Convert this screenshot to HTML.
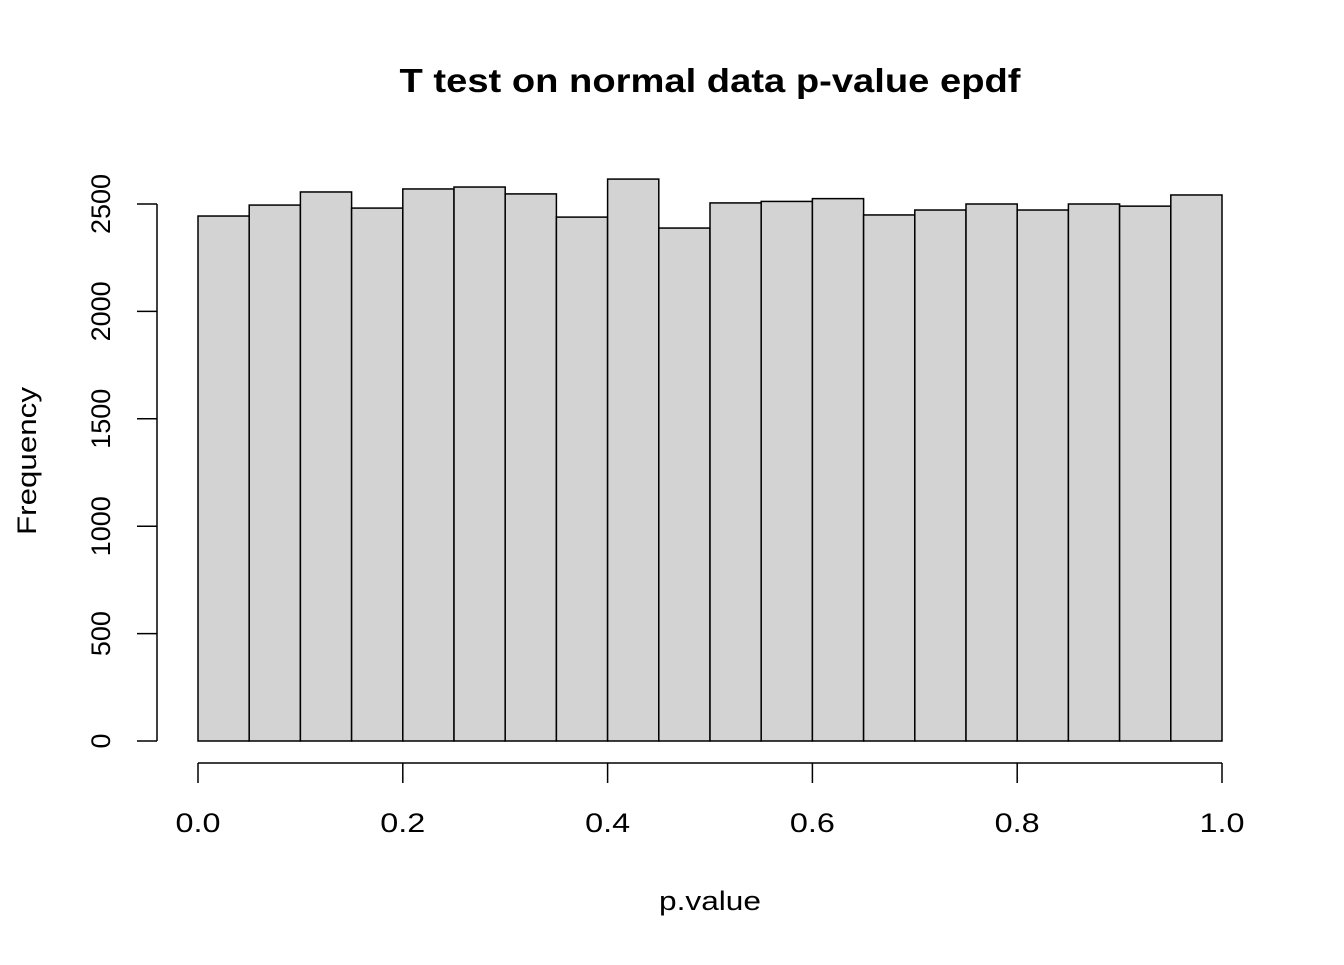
<!DOCTYPE html>
<html><head><meta charset="utf-8"><style>
body{margin:0;background:#fff}
svg text{font-family:"Liberation Sans",Arial,sans-serif;fill:#000}
</style></head><body>
<svg id="c" width="1344" height="960">
<text x="710" y="92" text-anchor="middle" font-size="33" font-weight="bold" textLength="621" lengthAdjust="spacingAndGlyphs">T test on normal data p-value epdf</text>
<text x="710" y="910" text-anchor="middle" font-size="27" textLength="102" lengthAdjust="spacingAndGlyphs">p.value</text>
<text transform="translate(36,461) rotate(-90)" text-anchor="middle" font-size="27" textLength="148" lengthAdjust="spacingAndGlyphs">Frequency</text>
<g id="bars"></g><g id="xa"></g><g id="ya"></g>
</svg>
<script>
const counts=[2444,2495,2556,2481,2570,2579,2547,2439,2616,2388,2505,2512,2525,2449,2472,2500,2472,2500,2490,2542];
const xTicks=[0,0.2,0.4,0.6,0.8,1.0];
const xTickLabels=["0.0","0.2","0.4","0.6","0.8","1.0"];
const yTicks=[0,500,1000,1500,2000,2500];
const binWidth=0.05;
const NS="http://www.w3.org/2000/svg";
const sx=v=>198+v*1024, sy=v=>741-v*537/2500;
function mk(t,a,p){const e=document.createElementNS(NS,t);for(const k in a)e.setAttribute(k,a[k]);p.appendChild(e);return e;}
const bars=document.getElementById('bars');
counts.forEach((c,i)=>{
 const r=mk('rect',{x:sx(i*binWidth),y:sy(c),width:sx((i+1)*binWidth)-sx(i*binWidth),height:sy(0)-sy(c),fill:'#d3d3d3',stroke:'#000','stroke-width':1.5},bars);
 
 
});
const xa=document.getElementById('xa');
const xl=mk('line',{x1:sx(0),x2:sx(1),y1:763,y2:763,stroke:'#000','stroke-width':1.5},xa);


xTicks.forEach((v,i)=>{
 mk('line',{x1:sx(v),x2:sx(v),y1:763,y2:783,stroke:'#000','stroke-width':1.5},xa);
 const t=mk('text',{x:sx(v),y:832,'text-anchor':'middle','font-size':27,textLength:45,lengthAdjust:'spacingAndGlyphs'},xa);t.textContent=xTickLabels[i];
 
 
});
const ya=document.getElementById('ya');
const yl=mk('line',{x1:157,x2:157,y1:sy(0),y2:sy(2500),stroke:'#000','stroke-width':1.5},ya);


yTicks.forEach(v=>{
 mk('line',{x1:137,x2:157,y1:sy(v),y2:sy(v),stroke:'#000','stroke-width':1.5},ya);
 const w=String(v).length*15;
 const t=mk('text',{transform:`translate(110,${sy(v)}) rotate(-90)`,'text-anchor':'middle','font-size':27,textLength:w,lengthAdjust:'spacingAndGlyphs'},ya);t.textContent=v;
 
 
});
</script>
</body></html>
